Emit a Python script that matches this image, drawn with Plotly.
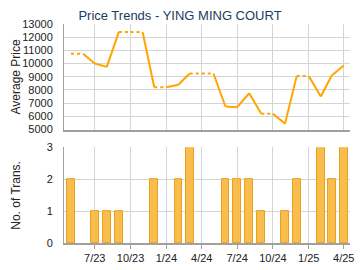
import plotly.graph_objects as go

months = ["2023-05-01","2023-06-01","2023-07-01","2023-08-01","2023-09-01","2023-10-01",
          "2023-11-01","2023-12-01","2024-01-01","2024-02-01","2024-03-01","2024-04-01",
          "2024-05-01","2024-06-01","2024-07-01","2024-08-01","2024-09-01","2024-10-01",
          "2024-11-01","2024-12-01","2025-01-01","2025-02-01","2025-03-01","2025-04-01"]
avg_price = [10750, None, 10000, 9750, 12400, None, None, 8200, None, 8400, 9250, None,
             None, 6750, 6700, 7750, 6200, None, 5450, 9050, None, 7500, 9100, 9850]
transactions = [2, 0, 1, 1, 1, 0, 0, 2, 0, 2, 3, 0, 0, 2, 2, 2, 1, 0, 1, 2, 0, 3, 2, 3]
tick_vals = ["2023-07-01","2023-10-01","2024-01-01","2024-04-01","2024-07-01",
             "2024-10-01","2025-01-01","2025-04-01"]
tick_text = ["7/23","10/23","1/24","4/24","7/24","10/24","1/25","4/25"]

# forward fill for months without transactions
filled = []
last = None
for v in avg_price:
    if v is not None:
        last = v
    filled.append(last)

solid_x, solid_y, dot_x, dot_y = [], [], [], []
for i in range(1, len(months)):
    if avg_price[i] is not None:
        solid_x += [months[i-1], months[i], None]
        solid_y += [filled[i-1], filled[i], None]
    else:
        dot_x += [months[i-1], months[i], None]
        dot_y += [filled[i-1], filled[i], None]

ORANGE = "#FFA500"
FONT = "Arial, Liberation Sans, sans-serif"

fig = go.Figure()
fig.add_trace(go.Scatter(x=dot_x, y=dot_y, mode="lines",
                         line=dict(color=ORANGE, width=2, dash="dot"),
                         xaxis="x", yaxis="y", hoverinfo="skip"))
fig.add_trace(go.Scatter(x=solid_x, y=solid_y, mode="lines",
                         line=dict(color=ORANGE, width=2),
                         xaxis="x", yaxis="y", hoverinfo="skip"))
fig.add_trace(go.Bar(x=months, y=transactions, width=20*86400000,
                     marker=dict(color="#F8BD4C",
                                 line=dict(color="#EBA020",
                                           width=[1 if t > 0 else 0 for t in transactions])),
                     xaxis="x2", yaxis="y2"))

xr = ["2023-04-13", "2025-04-17"]
common_x = dict(range=xr, type="date", tickvals=tick_vals, ticktext=tick_text,
                showgrid=True, gridcolor="#D4D4D4", gridwidth=1,
                showline=True, linecolor="#A0A0A0", linewidth=2,
                zeroline=False)

fig.update_layout(
    width=360, height=270,
    margin=dict(l=64, r=6, t=24, b=26),
    paper_bgcolor="white", plot_bgcolor="white",
    showlegend=False,
    font=dict(family=FONT, size=11, color="#222222"),
    xaxis=dict(**common_x, domain=[0, 1], anchor="y", showticklabels=False, ticks=""),
    xaxis2=dict(**common_x, domain=[0, 1], anchor="y2", showticklabels=True,
                ticks="outside", ticklen=4, tickcolor="#A0A0A0",
                tickfont=dict(size=11, color="#222222")),
    yaxis=dict(domain=[0.518, 1], range=[5000, 13000], dtick=1000, tickformat="d",
               showgrid=True, gridcolor="#D4D4D4", showline=True,
               linecolor="#A0A0A0", linewidth=1, zeroline=False,
               ticks="", ticklabelstandoff=8, tickfont=dict(size=11, color="#222222")),
    yaxis2=dict(domain=[0, 0.4377], range=[0, 3], dtick=1, tickformat="d",
                showgrid=True, gridcolor="#D4D4D4", showline=True,
                linecolor="#A0A0A0", linewidth=1, zeroline=False,
                ticks="", ticklabelstandoff=8, tickfont=dict(size=11, color="#222222")),
    title=dict(text="Price Trends - YING MING COURT", x=0.5, xref="container",
               xanchor="center", y=1 - 15/270, yref="container", yanchor="middle",
               font=dict(family=FONT, size=13, color="#1B3B5E")),
    bargap=0,
)

fig.add_annotation(text="Average Price", xref="paper", yref="paper",
                   x=-49/290, y=(1 + 0.518)/2, textangle=-90, showarrow=False,
                   xanchor="center", yanchor="middle",
                   font=dict(family=FONT, size=12, color="#222222"))
fig.add_annotation(text="No. of Trans.", xref="paper", yref="paper",
                   x=-49/290, y=0.4377/2, textangle=-90, showarrow=False,
                   xanchor="center", yanchor="middle",
                   font=dict(family=FONT, size=12, color="#222222"))

fig.write_html("out.html")
